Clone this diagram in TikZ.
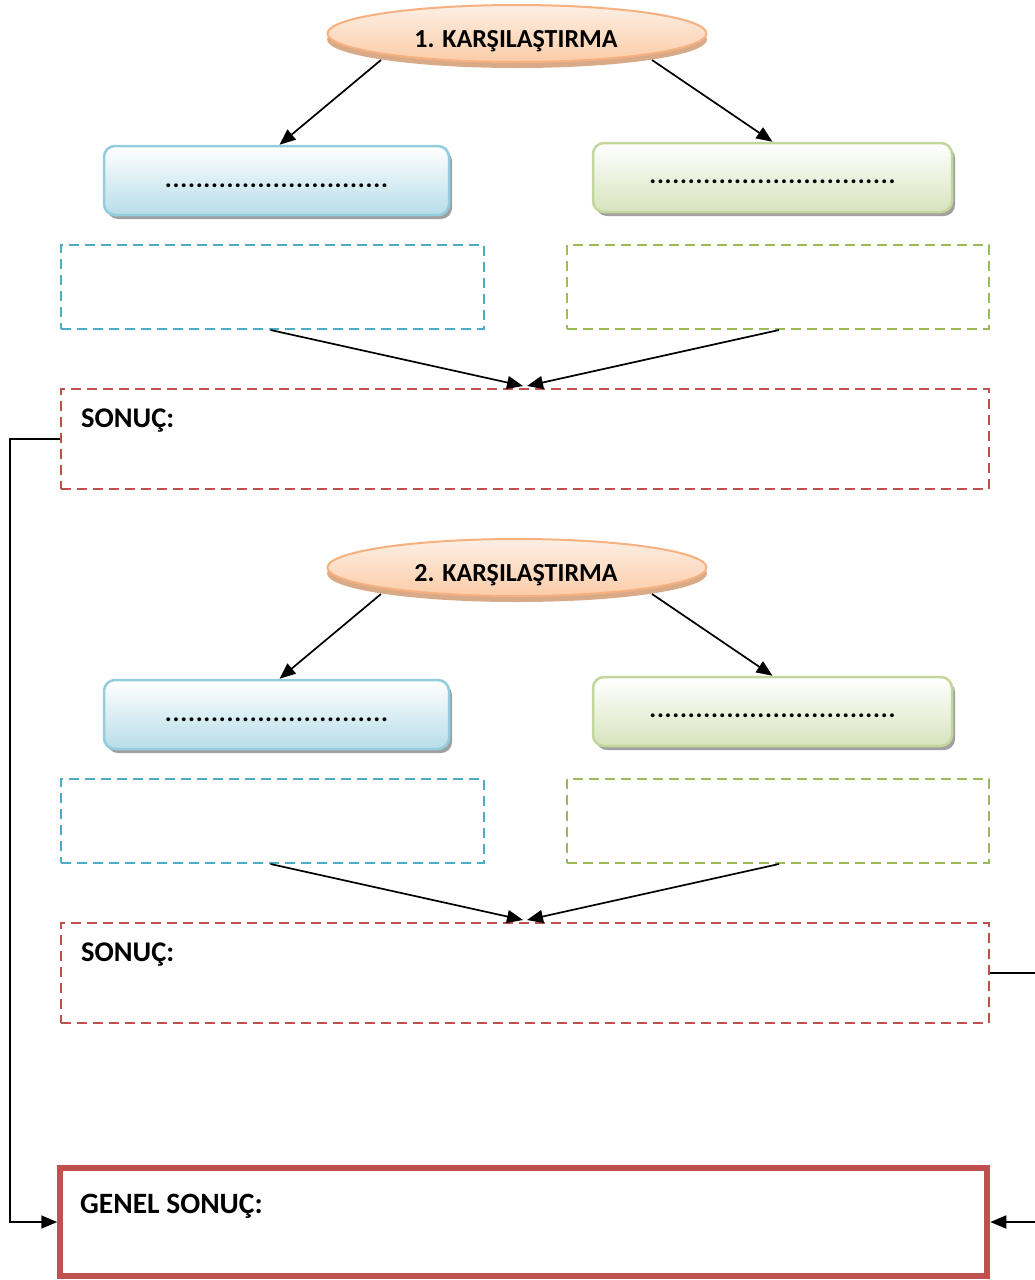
\documentclass[tikz,border=0pt]{standalone}
\usepackage{fontspec}
\setmainfont{Carlito}
\usetikzlibrary{shapes.geometric,arrows.meta,calc}

\definecolor{peachA}{HTML}{FDEFE4}
\definecolor{peachB}{HTML}{FBCCA8}
\definecolor{peachLine}{HTML}{F7B07F}
\definecolor{peachBevel}{HTML}{D9AA88}
\definecolor{blueB}{HTML}{B7DDE8}
\definecolor{blueLine}{HTML}{93CDDD}
\definecolor{greenB}{HTML}{D7E4BD}
\definecolor{greenLine}{HTML}{C3D69B}
\definecolor{bevelGray}{HTML}{A0A0A0}
\definecolor{dashBlue}{HTML}{4BACC6}
\definecolor{dashGreen}{HTML}{9BBB59}
\definecolor{sonucRed}{HTML}{C0504D}

\begin{document}
\begin{tikzpicture}[x=1pt,y=-1pt,
  every node/.style={font=\bfseries\fontsize{26}{31}\selectfont},
  oval/.style={ellipse, draw=peachLine, line width=2pt, top color=peachA,
    bottom color=peachB, minimum width=379pt, minimum height=57pt, inner sep=0pt},
  tab/.style={rounded corners=11pt, line width=2.5pt, inner sep=0pt, minimum height=69pt},
  bluetab/.style={tab, draw=blueLine, top color=white, bottom color=blueB, minimum width=345pt},
  greentab/.style={tab, draw=greenLine, top color=white, bottom color=greenB, minimum width=359pt},
  notebox/.style={dash pattern=on 10pt off 6pt, line width=2pt, inner sep=0pt,
    minimum width=423pt, minimum height=84pt},
  resultbox/.style={draw=sonucRed, dash pattern=on 10pt off 6pt, line width=2pt,
    inner sep=0pt, minimum width=928pt, minimum height=100pt},
  finalbox/.style={draw=sonucRed, line width=6pt, inner sep=0pt,
    minimum width=927pt, minimum height=108pt},
  heading/.style={anchor=base west, inner sep=0pt, font=\bfseries\fontsize{28.5}{34}\selectfont},
  dots/.style={anchor=base, font=\bfseries\fontsize{26}{31}\selectfont\addfontfeature{LetterSpace=3}},
  link/.style={line width=1.7pt, -{Triangle[length=16pt,width=13pt]}},
]
\useasboundingbox (0,0) rectangle (1034,1280);

\foreach \k/\dy in {1/0,2/534}{
  % title oval with its bevelled rim
  \fill[peachBevel] (517,39.5+\dy) ellipse [x radius=190, y radius=28.5];
  \node[oval] (o\k) at (517,33.5+\dy) {};
  \node[anchor=base] (t\k) at ($(o\k.center)+(-1,13.5)$) {\k. KARŞILAŞTIRMA};

  % the two compared items
  \fill[bevelGray, rounded corners=11pt] (107,150+\dy) rectangle (452,219+\dy);
  \node[bluetab] (b\k) at (276.5,180.5+\dy) {};
  \node[dots] (bt\k) at ($(b\k.center)+(0,6.5)$) {.............................};
  \fill[bevelGray, rounded corners=11pt] (596,147+\dy) rectangle (955,216+\dy);
  \node[greentab] (g\k) at (772.5,177.5+\dy) {};
  \node[dots] (gt\k) at ($(g\k.center)+(0,6)$) {................................};

  % note boxes under each item
  \node[notebox, draw=dashBlue] (d\k) at (272.5,287+\dy) {};
  \node[notebox, draw=dashGreen, minimum width=422pt] (e\k) at (778,287+\dy) {};

  % result of this comparison
  \node[resultbox] (s\k) at (525,439+\dy) {};
  \node[heading] (st\k) at (81,427+\dy) {SONUÇ:};

  % arrows
  \draw[link] ($(o\k.center)+(-136,26.5)$) -- ($(b\k.north)+(3,0)$);
  \draw[link] ($(o\k.center)+(135,26.5)$) -- (g\k.north);
  \draw[link] ($(d\k.south)+(-2,0)$) -- ($(s\k.north)+(-2,-2)$);
  \draw[link] ($(e\k.south)+(1,0)$) -- ($(s\k.north)+(2,-2)$);
}

% overall result
\node[finalbox] (gen) at (523.75,1222) {};
\node[heading, font=\bfseries\fontsize{29.5}{35}\selectfont] (gent) at (80,1213) {GENEL SONUÇ:};

\draw[link] (s1.west) -- ++(-50,0) |- (gen.west);
\draw[link] (s2.east) -- ++(60,0) |- (gen.east);
\end{tikzpicture}
\end{document}
